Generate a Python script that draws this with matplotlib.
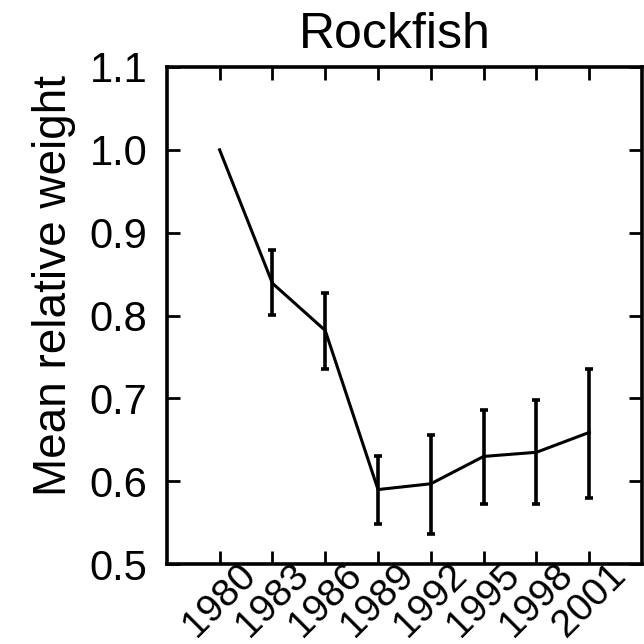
import numpy as np
import matplotlib
matplotlib.use("Agg")
import matplotlib.pyplot as plt

plt.rcParams['font.family'] = ['Liberation Sans', 'DejaVu Sans']

# data
years = [1980, 1983, 1986, 1989, 1992, 1995, 1998, 2001]
mean_weight = [1.0, 0.839, 0.782, 0.590, 0.597, 0.630, 0.635, 0.659]
upper = [1.0, 0.879, 0.827, 0.630, 0.656, 0.686, 0.698, 0.736]
lower = [1.0, 0.801, 0.736, 0.548, 0.536, 0.573, 0.572, 0.580]
y_ticks = [0.5, 0.6, 0.7, 0.8, 0.9, 1.0, 1.1]

mean_arr = np.array(mean_weight)
yerr = np.vstack([mean_arr - np.array(lower), np.array(upper) - mean_arr])

fig = plt.figure(figsize=(6.44, 6.44), dpi=100)
ax = fig.add_axes([0.259, 0.124, 0.738, 0.772])

ax.plot(years, mean_weight, color='black', lw=2.2)
ax.errorbar(years[1:], mean_weight[1:], yerr=yerr[:, 1:], fmt='none',
            ecolor='black', elinewidth=2.6, capsize=3.2, capthick=2.6)

ax.set_xlim(1977, 2004)
ax.set_ylim(0.5, 1.1)
ax.set_xticks(years)
ax.set_xticklabels([str(y) for y in years], rotation=45, fontsize=28,
                   ha='center', va='center', rotation_mode='anchor')
ax.set_yticks(y_ticks)
ax.set_yticklabels([f"{v:.1f}" for v in y_ticks], fontsize=30)

ax.tick_params(axis='both', direction='in', length=9.5, width=2.0,
               top=True, right=True, color='black')
ax.tick_params(axis='y', pad=14)
ax.tick_params(axis='x', pad=26)
for s in ax.spines.values():
    s.set_linewidth(2.6)

ax.set_ylabel('Mean relative weight', fontsize=33)
ax.yaxis.set_label_coords(-0.19, 0.561)
ax.set_title('Rockfish', fontsize=36, pad=14, x=0.48)

fig.savefig('out.png', dpi=100)
